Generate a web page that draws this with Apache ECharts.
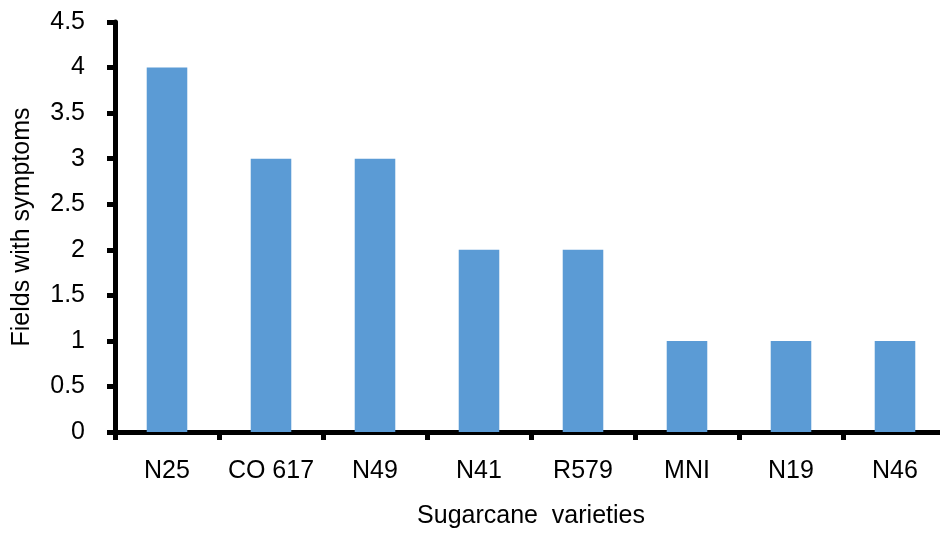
<!DOCTYPE html>
<html><head><meta charset="utf-8">
<script src="https://cdn.jsdelivr.net/npm/echarts@6/dist/echarts.min.js"></script>
<style>html,body{margin:0;padding:0;background:#fff}#c{width:940px;height:533px}</style>
</head><body><div id="c"></div>
<script>
const categories = ["N25","CO 617","N49","N41","R579","MNI","N19","N46"];
const fieldsWithSymptoms = [4,3,3,2,2,1,1,1];
const yTicks = [0,0.5,1,1.5,2,2.5,3,3.5,4,4.5];

const chart = echarts.init(document.getElementById('c'));
const font = '"Liberation Sans", Arial, sans-serif';
chart.setOption({
  animation:false,
  grid:{left:115,right:-7,top:22,bottom:101,containLabel:false,outerBoundsMode:'none'},
  xAxis:{
    type:'category',data:categories,
    name:'Sugarcane  varieties',nameLocation:'middle',nameGap:72,
    nameTextStyle:{fontFamily:font,fontSize:25,color:'#000'},
    axisLine:{lineStyle:{color:'#000',width:5}},
    axisTick:{show:true,length:8,lineStyle:{color:'#000',width:5}},
    axisLabel:{fontFamily:font,fontSize:25,color:'#000',margin:27,interval:0,hideOverlap:false}
  },
  yAxis:{
    type:'value',min:0,max:4.5,interval:0.5,
    name:'Fields with symptoms',nameLocation:'middle',nameGap:80,nameRotate:90,
    nameTextStyle:{fontFamily:font,fontSize:25,color:'#000'},
    axisLine:{show:true,lineStyle:{color:'#000',width:5}},
    axisTick:{show:true,length:8,lineStyle:{color:'#000',width:5}},
    splitLine:{show:false},
    axisLabel:{fontFamily:font,fontSize:25,color:'#000',margin:30,
      formatter:v=>String(yTicks.find(t=>Math.abs(t-v)<1e-9) ?? v)}
  },
  series:[{type:'bar',data:fieldsWithSymptoms,barWidth:'39%',itemStyle:{color:'#5B9BD5'}}]
});
</script></body></html>
